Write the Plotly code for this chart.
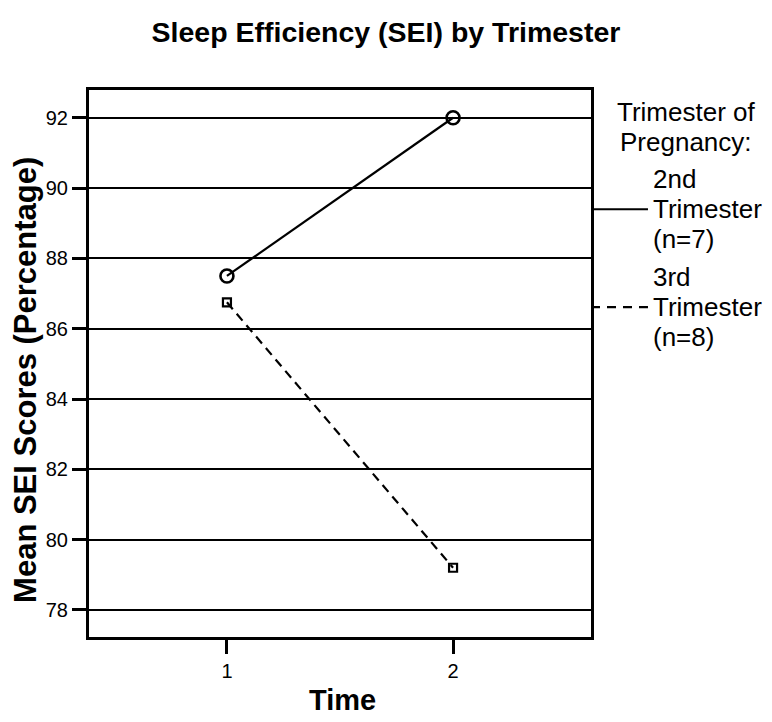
import plotly.graph_objects as go

# chart values
time_points = [1, 2]
sei_2nd = [87.5, 92.0]
sei_3rd = [86.75, 79.2]
series_names = ["2nd<br>Trimester<br>(n=7)", "3rd<br>Trimester<br>(n=8)"]
legend_title = ["Trimester of", "Pregnancy:"]
y_ticks = [78, 80, 82, 84, 86, 88, 90, 92]

FONT = "Liberation Sans, Arial, sans-serif"
LEG_SIZE = 26

fig = go.Figure()
fig.add_scatter(
    x=time_points, y=sei_2nd, name=series_names[0], mode="lines+markers",
    line=dict(color="black", width=2.2, dash="solid"),
    marker=dict(symbol="circle-open", size=13, color="black", line=dict(width=2.6)),
    showlegend=False,
)
fig.add_scatter(
    x=time_points, y=sei_3rd, name=series_names[1], mode="lines+markers",
    line=dict(color="black", width=2.2, dash="9px,6px"),
    marker=dict(symbol="square-open", size=8, color="black", line=dict(width=2.2)),
    showlegend=False,
)

axis_common = dict(
    showline=True, linecolor="black", linewidth=3, mirror=True,
    ticks="outside", ticklen=14, tickwidth=2.5, tickcolor="black",
    tickfont=dict(family=FONT, size=20, color="black"),
    zeroline=False,
)

fig.update_xaxes(range=[0.39, 2.61], tickvals=time_points, showgrid=False, **axis_common)
fig.update_yaxes(
    range=[77.23, 92.79], tickvals=y_ticks, showgrid=True,
    gridcolor="black", gridwidth=1.5, **axis_common,
)

# axis titles as annotations so they sit where the reference puts them
fig.add_annotation(
    text="<b>Mean SEI Scores (Percentage)</b>", textangle=-90,
    xref="paper", yref="paper", x=-0.1255, y=0.47, xanchor="center", yanchor="middle",
    showarrow=False, font=dict(family=FONT, size=31, color="black"),
)
fig.add_annotation(
    text="<b>Time</b>", xref="paper", yref="paper", x=0.504, y=-0.115,
    xanchor="center", yanchor="middle",
    showarrow=False, font=dict(family=FONT, size=29, color="black"),
)

# hand-built legend (the reference uses long sample lines and tight line spacing)
def leg_text(txt, x, y, anchor):
    fig.add_annotation(
        text=txt, xref="paper", yref="paper", x=x, y=y, xanchor=anchor, yanchor="middle",
        showarrow=False, font=dict(family=FONT, size=LEG_SIZE, color="black"),
    )

for txt, y in zip(legend_title, [0.960, 0.905]):
    leg_text(txt, 1.189, y, "center")

entry_rows = [[0.837, 0.782, 0.728], [0.658, 0.603, 0.548]]
entry_dash = ["solid", "9px,7px"]
for name, rows, dash in zip(series_names, entry_rows, entry_dash):
    for txt, y in zip(name.split("<br>"), rows):
        leg_text(txt, 1.1195, y, "left")
    fig.add_shape(
        type="line", xref="paper", yref="paper", x0=1.0, x1=1.1135, y0=rows[1], y1=rows[1],
        line=dict(color="black", width=2.2, dash=dash),
    )

fig.update_layout(
    width=772, height=722,
    margin=dict(l=81, r=189, t=82, b=93),
    paper_bgcolor="white", plot_bgcolor="white",
    title=dict(text="<b>Sleep Efficiency (SEI) by Trimester</b>", x=0.4896, xanchor="center",
               y=0.9668, yanchor="middle", font=dict(family=FONT, size=28.5, color="black")),
    font=dict(family=FONT, color="black"),
    showlegend=False,
)

fig.write_html("out.html")
